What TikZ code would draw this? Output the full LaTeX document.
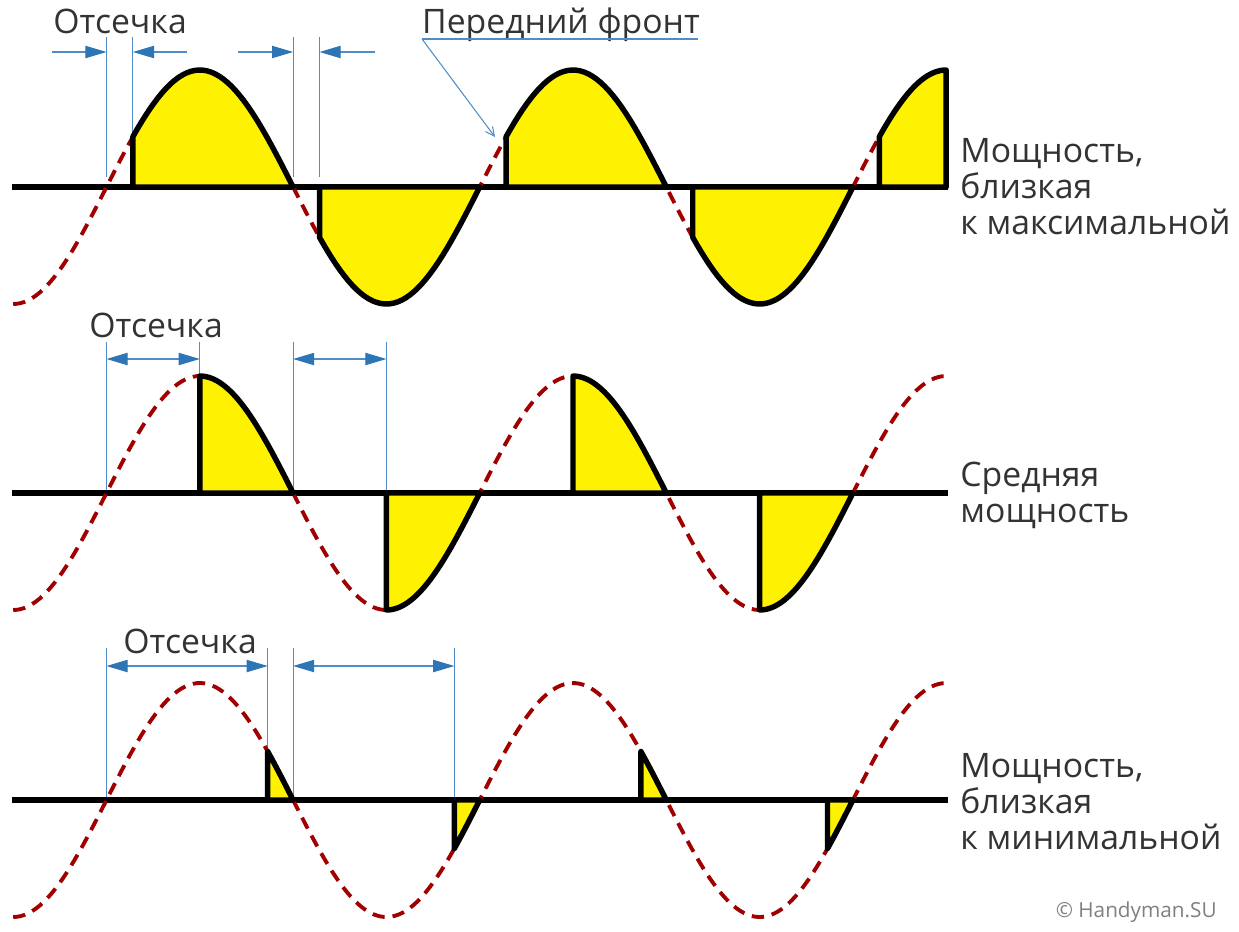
\documentclass[tikz,border=0pt]{standalone}
\usepackage{fontspec}
\setmainfont{Open Sans}
\usetikzlibrary{arrows.meta,positioning}
\definecolor{dimblue}{RGB}{46,117,182}
\definecolor{guideblue}{RGB}{80,140,200}
\definecolor{wavered}{RGB}{160,0,0}
\definecolor{txtgray}{RGB}{51,51,51}
\tikzset{
  axisline/.style={line width=3.3pt},
  wave/.style={wavered,line width=2.2pt,dash pattern=on 7pt off 4.5pt},
  pulse/.style={draw=black,fill=yellow,line width=3.1pt,line join=round},
  guide/.style={guideblue,line width=0.6pt},
  dim/.style={guide,-{Triangle[length=12pt,width=7pt,color=dimblue]}},
  dimboth/.style={guide,{Triangle[length=12pt,width=7pt,color=dimblue]}-{Triangle[length=12pt,width=7pt,color=dimblue]}},
  lead/.style={guideblue,line width=0.6pt},
  lbl/.style={text=txtgray,font=\fontsize{19.2}{20.4}\selectfont,inner sep=0pt}
}
% phase angle -> x
\newcommand{\xa}[1]{106.5+1.03667*(#1)}

\begin{document}
\begin{tikzpicture}[x=0.02cm,y=-0.02cm]
  \useasboundingbox (0,0) rectangle (1239,931);
  % guide lines: panel / top / bottom / arrow height / cut
  \foreach \p/\top/\bot/\mid/\c in {1/37/177/52/25.5,2/342/493/359/90,3/648/800/666/155.5} {
    \foreach \n/\t in {a/0,b/\c,c/180,d/180+\c} {
      \coordinate (\n\p t) at ({\xa{\t}},\top);
      \coordinate (\n\p b) at ({\xa{\t}},\bot);
      \coordinate (\n\p m) at ({\xa{\t}},\mid);
      \draw[guide] (\n\p t) -- (\n\p b);
    }
  }
  % three traces: axis y / cut angle
  \foreach \ay/\c in {187/25.5,493/90,800/155.5} {
    \draw[axisline] (12,\ay) -- (948,\ay);
    \draw[wave] plot[domain=-90:810,samples=250] ({\xa{\x}},{\ay-117*sin(\x)});
    \foreach \k in {0,...,4} {
      \pgfmathsetmacro\s{\k*180+\c}
      \pgfmathsetmacro\e{min(\k*180+180,810)}
      \ifdim\s pt<\e pt
        \draw[pulse] ({\xa{\s}},\ay) -- plot[domain=\s:\e,samples=40] ({\xa{\x}},{\ay-117*sin(\x)}) -- ({\xa{\e}},\ay) -- cycle;
      \fi
    }
  }
  % first trace: arrows from outside
  \coordinate (s1) at (52,52);
  \coordinate (s2) at (187,52);
  \coordinate (s3) at (238,52);
  \coordinate (s4) at (375,52);
  \draw[dim] (s1) -- (a1m);
  \draw[dim] (s2) -- (b1m);
  \draw[dim] (s3) -- (c1m);
  \draw[dim] (s4) -- (d1m);
  \draw[dimboth] (a2m) -- (b2m);
  \draw[dimboth] (c2m) -- (d2m);
  \draw[dimboth] (a3m) -- (b3m);
  \draw[dimboth] (c3m) -- (d3m);
  % labels
  \node[lbl,anchor=base] (cut1) at (120,33) {Отсечка};
  \node[lbl,anchor=base] (front) at (561,33) {Передний фронт};
  \node[lbl,anchor=base] (cut2) at (156,337) {Отсечка};
  \node[lbl,anchor=base] (cut3) at (190,653) {Отсечка};
  \node[lbl,anchor=base west,align=left] (maxp) at (960,234) {Мощность,\\близкая\\к максимальной};
  \node[lbl,anchor=base west,align=left] (midp) at (960,522) {Средняя\\мощность};
  \node[lbl,anchor=base west,align=left] (minp) at (960,849) {Мощность,\\близкая\\к минимальной};
  \node[anchor=base east,text=gray,font=\fontsize{11.8}{14}\selectfont,inner sep=0pt] (copy) at (1217,917) {© Handyman.SU};
  % leader to the front edge
  \coordinate (fl) at (422,39);
  \coordinate (fr) at (698,39);
  \coordinate (ft) at (495,137);
  \draw[lead] (fr) -- (fl);
  \draw[lead,-{Straight Barb[length=5pt,width=5pt]}] (fl) -- (ft);
\end{tikzpicture}
\end{document}
